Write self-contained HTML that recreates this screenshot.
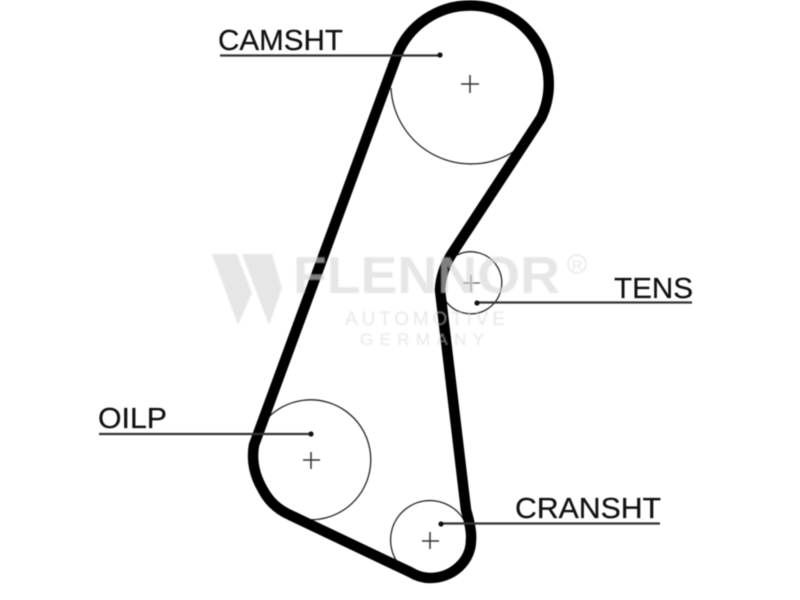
<!DOCTYPE html>
<html><head><meta charset="utf-8"><style>
html,body{margin:0;padding:0;background:#fff;width:800px;height:600px;overflow:hidden}
svg{display:block}
text{font-family:"Liberation Sans",sans-serif}
</style></head><body>
<svg width="800" height="600" viewBox="0 0 800 600" xmlns="http://www.w3.org/2000/svg">
<g style="filter:blur(0.5px)">
<g fill="none" stroke="#222" stroke-width="1.3">
<path d="M391,88 A80,80 0 0 0 516,150"/>
<path d="M457,255 A31,31 0 1 1 445,300"/>
<path d="M265,421 A60,60 0 1 1 283,513"/>
<path d="M464,520 A39.4,39.4 0 0 0 396,560"/>
</g>
<g stroke="#333" stroke-width="1.5">
<path d="M461,84H479M470,75V93"/>
<path d="M463,283H480M471,275V292" stroke="#777"/>
<path d="M303,460H320M311,452V469"/>
<path d="M422,541H439M430,532V549"/>
</g>
<path fill="none" stroke="#000" stroke-width="10.5" stroke-linejoin="round" d="M397,55 A78.5,78.5 0 0 1 470,5.5 A78.5,78.5 0 0 1 541,118 L453,252 Q441,270 440,290 L466,510 Q472,530 471,540 A41,38 0 0 1 430,578 Q420,578 410,572 L290,515 Q272,507 263,490 Q250,468 254,445 Z"/>
<g stroke="#333" stroke-width="2.2" fill="#111">
<path d="M220,55.5H440M477,302.5H692M99,434H311M441,523.5H660" fill="none"/>
<circle cx="440" cy="55" r="2.6" stroke="none"/>
<circle cx="477" cy="303" r="2.6" stroke="none"/>
<circle cx="311" cy="434" r="2.6" stroke="none"/>
<circle cx="441" cy="524" r="2.6" stroke="none"/>
</g>
<g fill="#111" font-size="29" stroke="#111" stroke-width=".25">
<text x="218" y="50" textLength="125" lengthAdjust="spacingAndGlyphs">CAMSHT</text>
<text x="614" y="298" textLength="79" lengthAdjust="spacingAndGlyphs">TENS</text>
<text x="98" y="428" textLength="69" lengthAdjust="spacingAndGlyphs">OILP</text>
<text x="515" y="518" textLength="146" lengthAdjust="spacingAndGlyphs">CRANSHT</text>
</g>
<g fill="rgb(214,214,214)" opacity=".6" style="filter:blur(0.5px)">
<polygon points="212,254 237,254 252,293 238,325"/>
<polygon points="242,254 272,254 282,288 269,325"/>
<text x="293" y="293" font-size="52" font-weight="bold" textLength="267" lengthAdjust="spacingAndGlyphs">FLENNOR</text>
<text x="345" y="325" font-size="19" textLength="160" lengthAdjust="spacing">AUTOMOTIVE</text>
<text x="360" y="345" font-size="17" textLength="124" lengthAdjust="spacing">GERMANY</text>
<circle cx="577" cy="264" r="9" fill="none" stroke="rgb(214,214,214)" stroke-width="1.5"/>
<text x="572" y="270" font-size="14">R</text>
</g>
</g>
</svg>
</body></html>
